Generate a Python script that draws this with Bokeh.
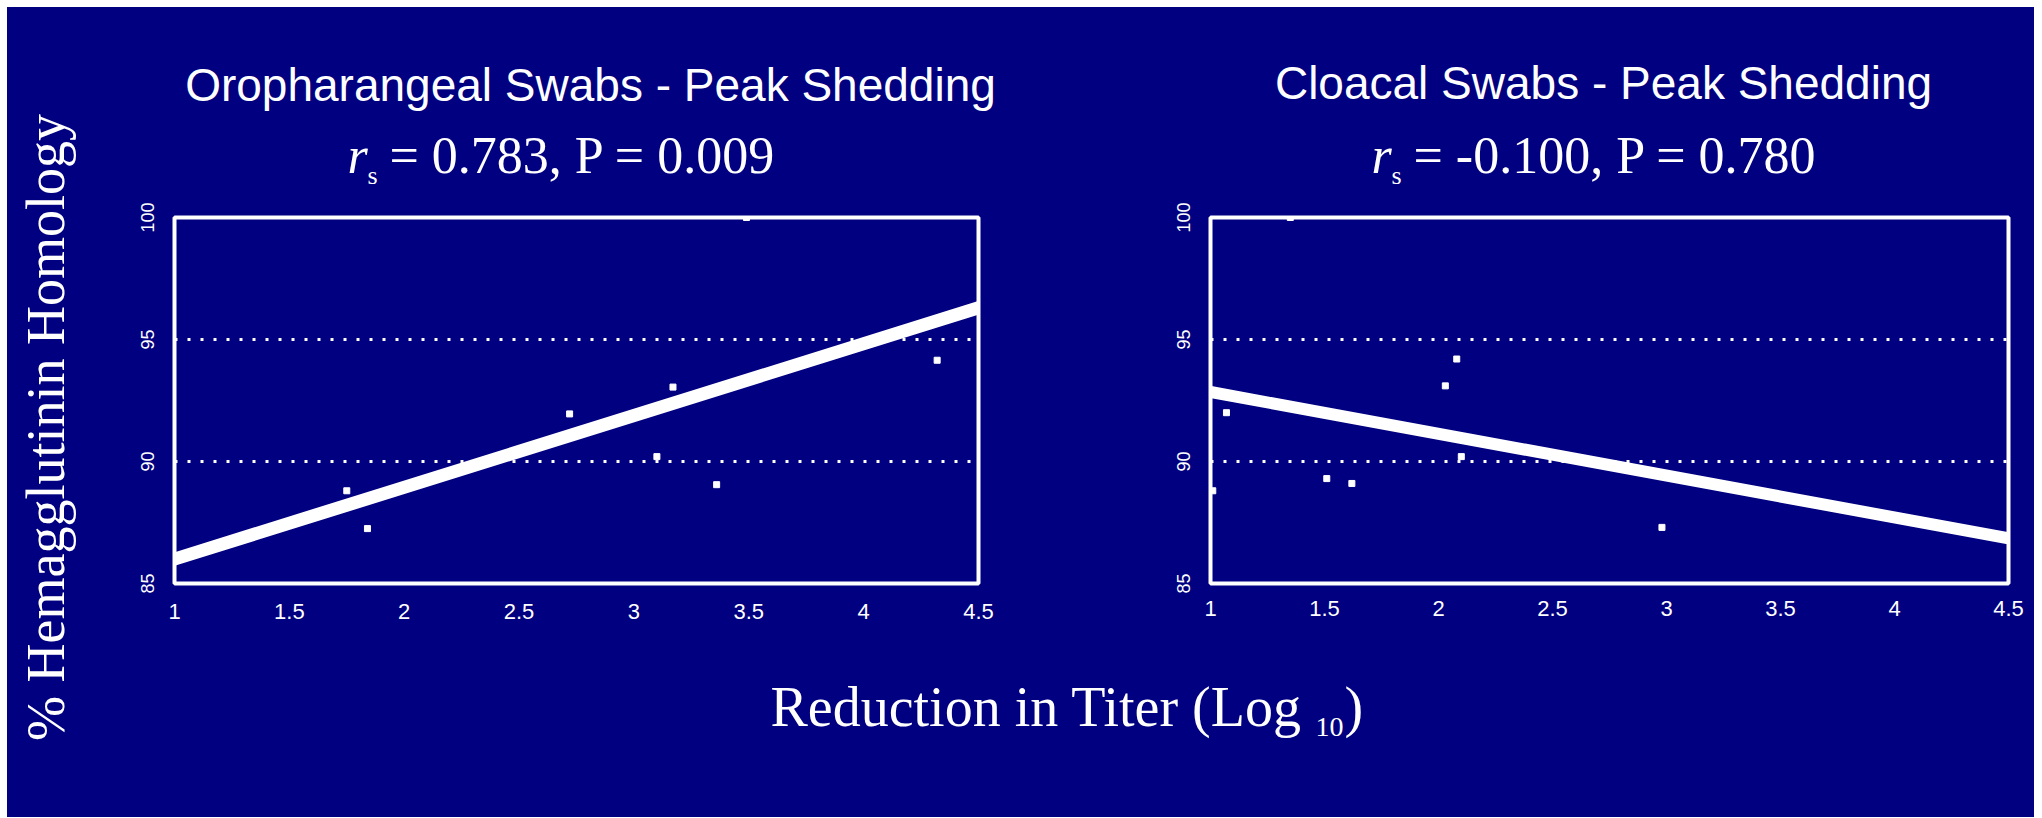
import math
from bokeh.plotting import figure
from bokeh.models import Range1d, FixedTicker, Label, Spacer
from bokeh.layouts import row, column
from bokeh.embed import file_html
from bokeh.resources import INLINE

# ---------------- data ----------------
x_ticks = [1, 1.5, 2, 2.5, 3, 3.5, 4, 4.5]
x_tick_labels = ["1", "1.5", "2", "2.5", "3", "3.5", "4", "4.5"]
y_ticks = [85, 90, 95, 100]
y_tick_labels = ["85", "90", "95", "100"]
ref_lines = [90, 95]

# Oropharangeal swabs - peak shedding
oro_x = [1.75, 1.84, 2.72, 3.10, 3.17, 3.36, 3.49, 4.32]
oro_y = [88.8, 87.25, 91.95, 90.2, 93.05, 89.05, 100.0, 94.15]
oro_fit_x = [1.0, 4.5]
oro_fit_y = [86.0, 96.3]

# Cloacal swabs - peak shedding
clo_x = [1.01, 1.07, 1.35, 1.51, 1.62, 2.03, 2.08, 2.10, 2.98]
clo_y = [88.8, 92.0, 100.0, 89.3, 89.1, 93.1, 94.2, 90.2, 87.3]
clo_fit_x = [1.0, 4.5]
clo_fit_y = [92.85, 86.85]

titles = ["Oropharangeal Swabs - Peak Shedding", "Cloacal Swabs - Peak Shedding"]
stats = ["= 0.783, P = 0.009", "= -0.100, P = 0.780"]
y_label = "% Hemagglutinin Homology"
x_label_main = "Reduction in Titer (Log"
x_label_sub = "10"

NAVY = "#000080"
SANS = "Liberation Sans"
SERIF = "Liberation Serif"
NAVY_STYLE = {"background-color": NAVY}


def blank(width, height):
    p = figure(width=width, height=height, x_range=Range1d(0, width), y_range=Range1d(0, height),
               x_axis_type=None, y_axis_type=None, output_backend="svg", toolbar_location=None,
               title_location=None, min_border=0)
    p.background_fill_color = NAVY
    p.border_fill_color = NAVY
    p.outline_line_color = None
    p.xgrid.visible = False
    p.ygrid.visible = False
    return p


def panel(width, height, bl, br, bt, bb, xs, ys, fx, fy, lw, x_standoff):
    p = figure(width=width, height=height, x_range=Range1d(1, 4.5), y_range=Range1d(85, 100),
               output_backend="svg", toolbar_location=None, title_location=None,
               min_border_left=bl, min_border_right=br, min_border_top=bt, min_border_bottom=bb)
    p.background_fill_color = NAVY
    p.border_fill_color = NAVY
    p.outline_line_color = "white"
    p.outline_line_width = 4
    p.xgrid.visible = False
    p.ygrid.ticker = FixedTicker(ticks=ref_lines)
    p.ygrid.grid_line_color = "white"
    p.ygrid.grid_line_width = 3
    p.ygrid.grid_line_dash = "3 10"

    p.xaxis.ticker = FixedTicker(ticks=x_ticks)
    p.xaxis.major_label_overrides = {t: s for t, s in zip(x_ticks, x_tick_labels)}
    p.yaxis.ticker = FixedTicker(ticks=y_ticks)
    p.yaxis.major_label_overrides = {t: s for t, s in zip(y_ticks, y_tick_labels)}
    for ax in (p.xaxis, p.yaxis):
        ax.axis_line_color = None
        ax.major_tick_line_color = None
        ax.minor_tick_line_color = None
        ax.major_tick_out = 0
        ax.major_tick_in = 0
        ax.major_label_text_color = "white"
        ax.major_label_text_font = SANS
    p.xaxis.major_label_text_font_size = "22px"
    p.xaxis.major_label_standoff = x_standoff
    p.yaxis.major_label_text_font_size = "18px"
    p.yaxis.major_label_orientation = "vertical"
    p.yaxis.major_label_standoff = 21

    p.line(fx, fy, line_color="white", line_width=lw, line_cap="round")
    p.scatter(xs, ys, marker="square", size=6, color="white")
    return p


# left y-label strip (page x 7..90, y 7..817)
fy_fig = blank(83, 810)
fy_fig.add_layout(Label(x=38, y=390, text=y_label, angle=math.pi / 2, text_font=SERIF,
                        text_font_size="54px", text_color="white", text_align="center",
                        text_baseline="alphabetic"))

# title strip (page x 90..2034, y 7..200)
ftop = blank(1944, 193)
ftop.add_layout(Label(x=500, y=116, text=titles[0], text_font=SANS, text_font_size="46px",
                      text_color="white", text_align="center", text_baseline="alphabetic"))
ftop.add_layout(Label(x=1513, y=118, text=titles[1], text_font=SANS, text_font_size="46px",
                      text_color="white", text_align="center", text_baseline="alphabetic"))
for rx, st in ((257, stats[0]), (1281, stats[1])):
    ftop.add_layout(Label(x=rx, y=45, text="r", text_font=SERIF, text_font_style="italic",
                          text_font_size="52px", text_color="white", text_baseline="alphabetic"))
    ftop.add_layout(Label(x=rx + 20, y=25, text="s", text_font=SERIF,
                          text_font_size="26px", text_color="white", text_baseline="alphabetic"))
    ftop.add_layout(Label(x=rx + 42, y=45, text=st, text_font=SERIF,
                          text_font_size="52px", text_color="white", text_baseline="alphabetic"))

# panels (page y 200..650)
f1 = panel(1010, 450, 84, 122, 17, 60, oro_x, oro_y, oro_fit_x, oro_fit_y, 13, 20)
f2 = panel(934, 450, 110, 26, 17, 67, clo_x, clo_y, clo_fit_x, clo_fit_y, 12, 17)

# x-label strip (page x 90..2034, y 650..817)
f3 = blank(1944, 167)
f3.add_layout(Label(x=680, y=111, text=x_label_main, text_font=SERIF, text_font_size="56px",
                    text_color="white", text_baseline="alphabetic"))
f3.add_layout(Label(x=1225, y=91, text=x_label_sub, text_font=SERIF, text_font_size="28px",
                    text_color="white", text_baseline="alphabetic"))
f3.add_layout(Label(x=1254, y=111, text=")", text_font=SERIF, text_font_size="56px",
                    text_color="white", text_baseline="alphabetic"))

content = row(fy_fig,
              column(ftop, row(f1, f2, styles=NAVY_STYLE), f3, styles=NAVY_STYLE),
              styles=NAVY_STYLE)
layout = column(Spacer(height=7), row(Spacer(width=7), content))

open("out.html", "w").write(file_html(layout, INLINE))
